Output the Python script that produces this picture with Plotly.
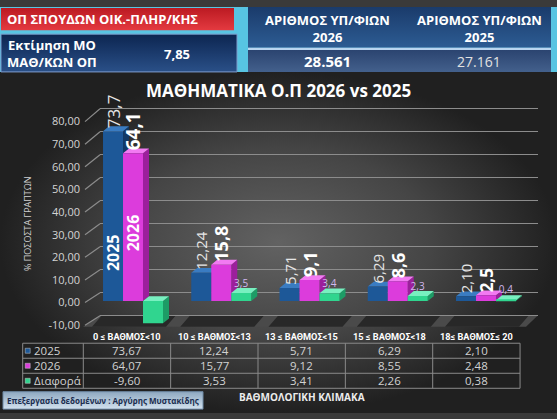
import plotly.graph_objects as go

W, H = 557, 419

# ---------------- data ----------------
categories = ["0 ≤ ΒΑΘΜΟΣ<10", "10 ≤ ΒΑΘΜΟΣ<13", "13 ≤ ΒΑΘΜΟΣ<15",
              "15 ≤ ΒΑΘΜΟΣ<18", "18≤ ΒΑΘΜΟΣ≤ 20"]
series_names = ["2025", "2026", "Διαφορά"]
values_2025 = [73.67, 12.24, 5.71, 6.29, 2.10]
values_2026 = [64.07, 15.77, 9.12, 8.55, 2.48]
values_diff = [-9.60, 3.53, 3.41, 2.26, 0.38]
labels_2025 = ["73,7", "12,24", "5,71", "6,29", "2,10"]
labels_2026 = ["64,1", "15,8", "9,1", "8,6", "2,5"]
labels_diff = ["", "3,5", "3,4", "2,3", "0,4"]
y_tickvals = [-10, 0, 10, 20, 30, 40, 50, 60, 70, 80]
y_ticktext = ["-10,00", "0,00", "10,00", "20,00", "30,00", "40,00",
              "50,00", "60,00", "70,00", "80,00"]

panel_title = "ΟΠ ΣΠΟΥΔΩΝ ΟΙΚ.-ΠΛΗΡ/ΚΗΣ"
estimate_label = "Εκτίμηση ΜΟ<br>ΜΑΘ/ΚΩΝ ΟΠ"
estimate_value = "7,85"
count_headers = ["ΑΡΙΘΜΟΣ ΥΠ/ΦΙΩΝ<br>2026", "ΑΡΙΘΜΟΣ ΥΠ/ΦΙΩΝ<br>2025"]
count_values = ["28.561", "27.161"]
chart_title = "ΜΑΘΗΜΑΤΙΚΑ Ο.Π 2026 vs 2025"
y_title = "% ΠΟΣΟΣΤΑ ΓΡΑΠΤΩΝ"
x_title = "ΒΑΘΜΟΛΟΓΙΚΗ ΚΛΙΜΑΚΑ"
credit = "Επεξεργασία δεδομένων : Αργύρης Μυστακίδης"

# ---------------- styles ----------------
FONT = "Open Sans"
NARROW = "Roboto"
col_front = ["#1d5898", "#dc3cdc", "#30d58f"]
col_side = ["#123a66", "#9c1f9c", "#1d9c66"]
col_top = ["#3a7cc2", "#f27af2", "#78f0c0"]
lab_col = ["#e6e6e6", "#ffffff", "#d2b8ee"]
size_2025 = [17, 15, 15, 15, 15]
size_2026 = [19, 18, 18, 18, 17]


def py(p):
    return 1 - p / H


def pxp(p):
    return p / W


# geometry of the bar plot (pixel calibration)
CAT0_PX, CAT_STEP_PX = 133.0, 88.25
BAR_ZERO_PX, BAR_K = 303.5, 2.38
bar_xrange = [-0.5, 4.5]
bar_yrange = [-12, 84]
bar_xdom = [pxp(CAT0_PX - 0.5 * CAT_STEP_PX), pxp(CAT0_PX + 4.5 * CAT_STEP_PX)]
bar_ydom = [py(BAR_ZERO_PX - bar_yrange[0] * BAR_K), py(BAR_ZERO_PX - bar_yrange[1] * BAR_K)]
BW = 20.0 / CAT_STEP_PX
offsets = [-1.5 * BW, -0.5 * BW, 0.5 * BW]
DX = 6.0 / CAT_STEP_PX
DY = 5.0 / BAR_K

# back wall grid (pixel calibration)
BACK_ZERO_PX, BACK_K = 295.0, 2.374
back_range = [-10.5, 80.5]
back_xdom = [pxp(100), pxp(538)]
back_ydom = [py(BACK_ZERO_PX - back_range[0] * BACK_K), py(BACK_ZERO_PX - back_range[1] * BACK_K)]

# front tick labels axis
FRONT_ZERO_PX, FRONT_K = 305.0, 2.334
front_range = [-10.5, 80.5]
front_ydom = [py(FRONT_ZERO_PX - front_range[0] * FRONT_K), py(FRONT_ZERO_PX - front_range[1] * FRONT_K)]

# table geometry
TAB_TOP, HEAD_H, ROW_H = 333.0, 14.0, 15.5
TAB_X0, COL0_W, COL_W = 22.7, 60.6, 87.35

fig = go.Figure()

# ---------- background canvas (pixel coords) ----------
def poly(xs, ys, line=None, **kw):
    fig.add_trace(go.Scatter(x=xs, y=ys, mode="lines", fill="toself",
                             line=(line if line is not None else dict(width=0)),
                             hoverinfo="skip", showlegend=False, xaxis="x", yaxis="y", **kw))

poly([0, W, W, 0, 0], [0, 0, 68, 68, 0], fillcolor="#57c4e2")
poly([0, W, W, 0, 0], [67, 67, H, H, 67], fillcolor="#3a3a3a",
     fillgradient=dict(type="radial", colorscale=[[0, "#626262"], [0.55, "#454545"], [1, "#202020"]]))
poly([1, 234, 234, 1, 1], [1, 1, 24, 24, 1], fillcolor="#d2262c",
     fillgradient=dict(type="vertical", colorscale=[[0, "#e43a40"], [1, "#bb1a22"]]))
poly([1, 237, 237, 1, 1], [28, 28, 67, 67, 28], fillcolor="#163565",
     fillgradient=dict(type="vertical", colorscale=[[0, "#2a5088"], [1, "#0c2550"]]),
     line=dict(width=1, color="#7d9ccc"))
poly([248, 551, 551, 248, 248], [0, 0, 42, 42, 0], fillcolor="#214a7c",
     fillgradient=dict(type="vertical", colorscale=[[0, "#2d5c93"], [1, "#1a3b6b"]]))
poly([248, 551, 551, 248, 248], [42, 42, 44.5, 44.5, 42], fillcolor="#b9d5ef")
poly([248, 551, 551, 248, 248], [44.5, 44.5, 67, 67, 44.5], fillcolor="#35507c",
     fillgradient=dict(type="vertical", colorscale=[[0, "#43608c"], [1, "#2b4470"]]))

# floor
poly([83, 100, 538, 526, 83], [330, 318, 318, 330, 330], fillcolor="#4a4a4a")
fx, fy = [], []
for i in range(len(categories)):
    cx = CAT0_PX + i * CAT_STEP_PX
    fx += [cx - 41, cx - 31, cx + 43, cx + 33, cx - 41, None]
    fy += [330, 318, 318, 330, 330, None]
poly(fx, fy, fillcolor="#282828")

# diagonal perspective grid connectors
gx, gy = [], []
for v in y_tickvals:
    gx += [85, 100, None]
    gy += [FRONT_ZERO_PX - v * FRONT_K, BACK_ZERO_PX - v * BACK_K, None]
fig.add_trace(go.Scatter(x=gx, y=gy, mode="lines", line=dict(color="#8c8c8c", width=1.2),
                         hoverinfo="skip", showlegend=False, xaxis="x", yaxis="y"))

# credit box
poly([3, 203, 203, 3, 3], [397, 397, 415, 415, 397], fillcolor="#a9c0d5",
     fillgradient=dict(type="vertical", colorscale=[[0, "#d2e1ee"], [1, "#8ea8c0"]]),
     line=dict(width=1, color="#6f8aa5"))

# ---------- data table (grid lines + text) ----------
n_cols = len(categories)
col_edges = [TAB_X0, TAB_X0 + COL0_W] + [TAB_X0 + COL0_W + COL_W * (j + 1) for j in range(n_cols)]
row_edges = [TAB_TOP + HEAD_H + ROW_H * r for r in range(len(series_names) + 1)]
tab_x1 = col_edges[-1]
lx, ly = [], []
for yv in row_edges:
    lx += [TAB_X0, tab_x1, None]
    ly += [yv, yv, None]
for xv in col_edges:
    lx += [xv, xv, None]
    ly += [row_edges[0], row_edges[-1], None]
fig.add_trace(go.Scatter(x=lx, y=ly, mode="lines", line=dict(color="#8a8a8a", width=1),
                         hoverinfo="skip", showlegend=False, xaxis="x", yaxis="y"))
fig.add_trace(go.Scatter(
    x=[TAB_X0 + 5] * 3,
    y=[row_edges[k] + ROW_H / 2 for k in range(3)],
    mode="markers", marker=dict(symbol="square", size=5, color=col_front,
                                line=dict(width=0.5, color="#cccccc")),
    hoverinfo="skip", showlegend=False, xaxis="x", yaxis="y"))

# ---------- back wall gridlines ----------
fig.add_trace(go.Scatter(x=[0], y=[0], mode="markers", marker=dict(opacity=0),
                         hoverinfo="skip", showlegend=False, xaxis="x2", yaxis="y2"))

# ---------- 3D faces (side/top) ----------
all_vals = [values_2025, values_2026, values_diff]
for s, vals in enumerate(all_vals):
    sx, sy, tx, ty = [], [], [], []
    for i, v in enumerate(vals):
        xl = i + offsets[s]
        xr = xl + BW
        lo, hi = min(0, v), max(0, v)
        sx += [xr, xr, xr + DX, xr + DX, xr, None]
        sy += [lo, hi, hi + DY, lo + DY, lo, None]
        tx += [xl, xr, xr + DX, xl + DX, xl, None]
        ty += [hi, hi, hi + DY, hi + DY, hi, None]
    fig.add_trace(go.Scatter(x=sx, y=sy, mode="lines", fill="toself", fillcolor=col_side[s],
                             line=dict(width=0), hoverinfo="skip", showlegend=False,
                             xaxis="x3", yaxis="y3"))
    fig.add_trace(go.Scatter(x=tx, y=ty, mode="lines", fill="toself", fillcolor=col_top[s],
                             line=dict(width=0), hoverinfo="skip", showlegend=False,
                             xaxis="x3", yaxis="y3"))

# ---------- bars (front faces) ----------
xs = list(range(len(categories)))
all_labels = [labels_2025, labels_2026, labels_diff]
text_sizes = [size_2025, size_2026, 10]
text_angles = [-90, -90, 0]
text_weights = ["normal", "bold", "normal"]
for s, vals in enumerate(all_vals):
    fig.add_trace(go.Bar(
        x=xs, y=vals, width=BW, offset=offsets[s], name=series_names[s],
        marker=dict(color=col_front[s], line=dict(width=0)),
        text=all_labels[s], textposition="outside", textangle=text_angles[s],
        textfont=dict(family=FONT, size=text_sizes[s], color=lab_col[s], weight=text_weights[s]),
        constraintext="none", cliponaxis=False, showlegend=False, hoverinfo="skip",
        xaxis="x4", yaxis="y4"))

# front tick label axis
fig.add_trace(go.Scatter(x=[0], y=[0], mode="markers", marker=dict(opacity=0),
                         hoverinfo="skip", showlegend=False, xaxis="x4", yaxis="y5"))

# ---------- annotations ----------
ann = []
def txt(x, y, t, size, color="#ffffff", bold=False, xanchor="center", angle=0, ref=("x", "y"), family=FONT):
    ann.append(dict(x=x, y=y, xref=ref[0], yref=ref[1], text=(f"<b>{t}</b>" if bold else t),
                    showarrow=False, xanchor=xanchor, yanchor="middle", textangle=angle,
                    font=dict(family=family, size=size, color=color)))

def fmt(v):
    return f"{v:.2f}".replace(".", ",")

# table texts
for j, c in enumerate(categories):
    cxm = (col_edges[j + 1] + col_edges[j + 2]) / 2
    txt(cxm, TAB_TOP + HEAD_H / 2, c.replace("<", "&lt;"), 9.2, bold=True, family=NARROW)
    for r, vals in enumerate(all_vals):
        txt(cxm, row_edges[r] + ROW_H / 2, fmt(vals[j]), 11.5, color="#d2d2d2")
for r, n in enumerate(series_names):
    txt(TAB_X0 + 9.5, row_edges[r] + ROW_H / 2, n, 11.5, color="#d2d2d2", xanchor="left")

txt(5, 12.5, panel_title, 13, bold=True, xanchor="left")
txt(5, 48, estimate_label, 13, bold=True, xanchor="left")
txt(177, 48, estimate_value, 13, bold=True)
txt(327, 22, count_headers[0], 13, bold=True)
txt(479, 22, count_headers[1], 13, bold=True)
txt(327, 56, count_values[0], 15, bold=True)
txt(479, 56, count_values[1], 14, color="#e2e2e2")
txt(278, 86, chart_title, 17, bold=True)
txt(27, 224, y_title, 9, color="#d0d0d0", angle=-90)
txt(302, 402, x_title, 10, color="#ececec", bold=True)
txt(103, 406, credit, 8, color="#1b2d4f", bold=True)
# in-bar series labels (first group)
txt(offsets[0] + BW / 2, 20.8, series_names[0], 16, bold=True, angle=-90, ref=("x4", "y4"))
txt(offsets[1] + BW / 2, 29.4, series_names[1], 16, bold=True, angle=-90, ref=("x4", "y4"))

hidden = dict(visible=False, fixedrange=True)
fig.update_layout(
    width=W, height=H, margin=dict(l=0, r=0, t=0, b=0),
    paper_bgcolor="#3a3a3a", plot_bgcolor="rgba(0,0,0,0)",
    barmode="overlay", separators=",.", showlegend=False,
    font=dict(family=FONT),
    xaxis=dict(domain=[0, 1], range=[0, W], **hidden),
    yaxis=dict(domain=[0, 1], range=[H, 0], **hidden),
    xaxis2=dict(domain=back_xdom, range=[0, 1], anchor="y2", **hidden),
    yaxis2=dict(domain=back_ydom, range=back_range, anchor="x2", tickvals=y_tickvals,
                showgrid=True, gridcolor="#8c8c8c", gridwidth=1.2, showticklabels=False,
                zeroline=False, showline=False, fixedrange=True),
    xaxis3=dict(domain=bar_xdom, range=bar_xrange, anchor="y3", **hidden),
    yaxis3=dict(domain=bar_ydom, range=bar_yrange, anchor="x3", **hidden),
    xaxis4=dict(domain=bar_xdom, range=bar_xrange, anchor="y4", **hidden),
    yaxis4=dict(domain=bar_ydom, range=bar_yrange, anchor="x4", **hidden),
    yaxis5=dict(domain=front_ydom, range=front_range, anchor="free", position=pxp(80),
                tickvals=y_tickvals, ticktext=y_ticktext, showgrid=False, zeroline=False,
                showline=False, ticks="", tickfont=dict(family=FONT, size=11, color="#d4d4d4"),
                fixedrange=True),
    annotations=ann,
)
fig.write_html("out.html")
